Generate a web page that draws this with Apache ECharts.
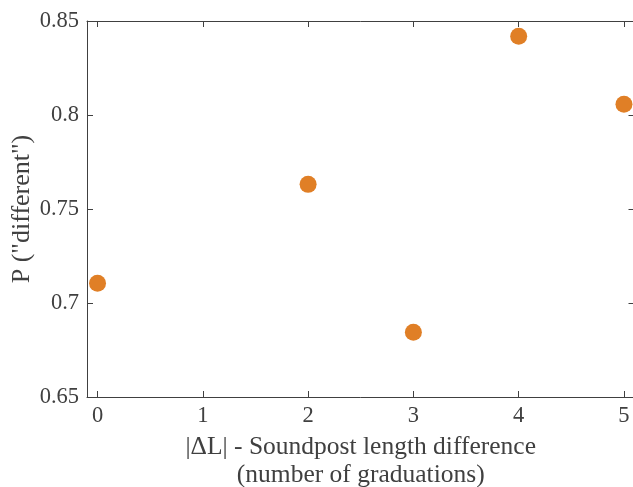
<!DOCTYPE html>
<html>
<head>
<meta charset="utf-8">
<script src="https://cdn.jsdelivr.net/npm/echarts@6/dist/echarts.min.js"></script>
<style>html,body{margin:0;padding:0;background:#fff}#c{width:633px;height:487px}</style>
</head>
<body>
<div id="c"></div>
<script>
const xValues = [0, 2, 3, 4, 5];
const yValues = [0.7105, 0.7631, 0.6844, 0.8419, 0.8057];
const xTicks = [0, 1, 2, 3, 4, 5];
const xTitle = '|\u0394L| - Soundpost length difference\n(number of graduations)';
const yTitle = 'P ("different")';

const font = 'Liberation Serif';
const axisColor = '#404040';
const chart = echarts.init(document.getElementById('c'));
const baseX = {
  type: 'value', min: -0.1, max: 5.1,
  splitLine: {show: false},
  axisLine: {onZero: false, lineStyle: {color: axisColor, width: 1}},
  axisTick: {inside: true, length: 6, customValues: xTicks, lineStyle: {color: axisColor}},
};
const baseY = {
  type: 'value', min: 0.65, max: 0.85, interval: 0.05,
  splitLine: {show: false},
  axisLine: {show: true, onZero: false, lineStyle: {color: axisColor, width: 1}},
  axisTick: {inside: true, length: 6, lineStyle: {color: axisColor}},
};
chart.setOption({
  animation: false,
  grid: {left: 87, right: -1.5, top: 21, bottom: 90, containLabel: false, outerBoundsMode: 'none'},
  xAxis: [
    Object.assign({}, baseX, {
      position: 'bottom',
      axisLabel: {customValues: xTicks, color: axisColor, fontFamily: font, fontSize: 22.5, margin: 8},
      name: xTitle, nameLocation: 'middle', nameGap: 36, nameMoveOverlap: false,
      nameTextStyle: {color: axisColor, fontFamily: font, fontSize: 25.5, lineHeight: 28, verticalAlign: 'top'}
    }),
    Object.assign({}, baseX, {position: 'top', axisLabel: {show: false}})
  ],
  yAxis: [
    Object.assign({}, baseY, {
      position: 'left',
      axisLabel: {color: axisColor, fontFamily: font, fontSize: 22.5, margin: 8},
      name: yTitle, nameLocation: 'middle', nameGap: 52, nameMoveOverlap: false,
      nameTextStyle: {color: axisColor, fontFamily: font, fontSize: 26}
    }),
    Object.assign({}, baseY, {position: 'right', axisLabel: {show: false}})
  ],
  series: [{
    type: 'scatter',
    data: xValues.map((x, i) => [x, yValues[i]]),
    symbolSize: 17,
    itemStyle: {color: '#E07F26', opacity: 1}
  }]
});
</script>
</body>
</html>
